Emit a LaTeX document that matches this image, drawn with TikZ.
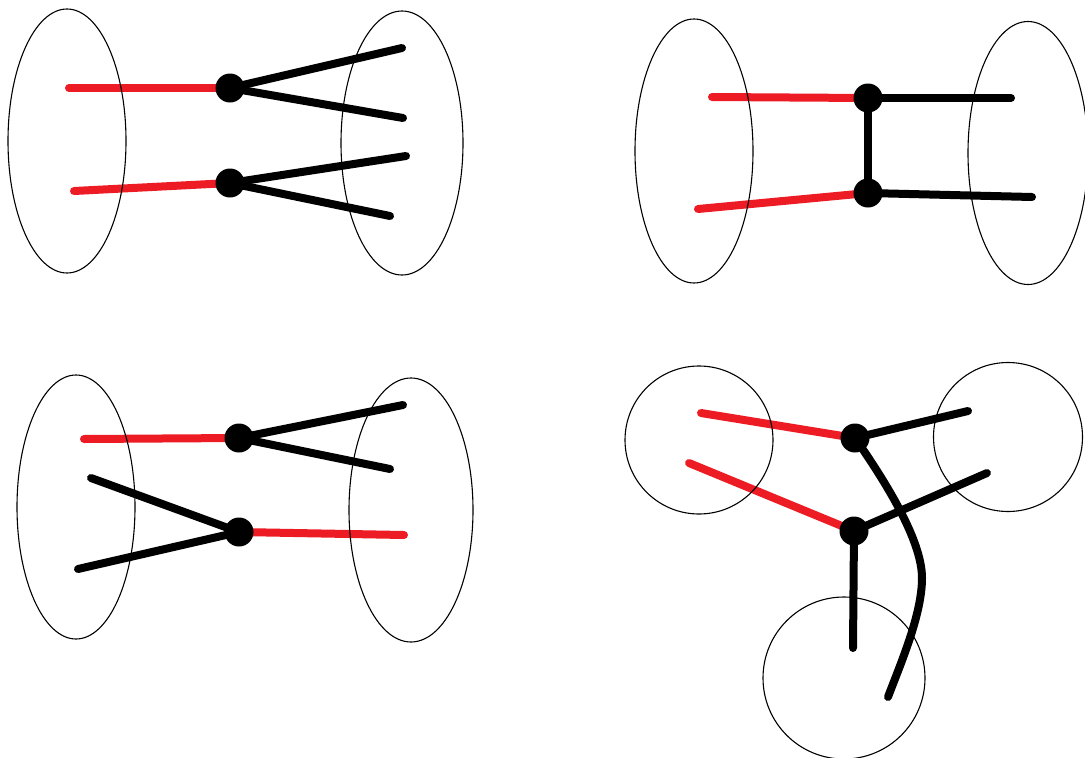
\documentclass[tikz,border=0pt]{standalone}
\usetikzlibrary{shapes.geometric}
\definecolor{paintred}{HTML}{ED1C24}
\pgfdeclarelayer{bg}
\pgfsetlayers{bg,main}
\begin{document}
\begin{tikzpicture}[x=1pt,y=-1pt,
  setshape/.style={draw=black,line width=1.1pt,ellipse,inner sep=0pt},
  redline/.style={draw=paintred,line width=8pt,line cap=round},
  blkline/.style={draw=black,line width=8pt,line cap=round},
  dot/.style={circle,fill=black,minimum size=29pt,inner sep=0pt}]
\useasboundingbox (0,0) rectangle (1085,758);

% ---------- top-left ----------
\node[setshape,minimum width=118pt,minimum height=264pt] (A1) at (67,141) {};
\node[setshape,minimum width=122pt,minimum height=264pt] (A2) at (402,143) {};
\node[dot] (a1) at (230,88) {};
\node[dot] (a2) at (230,183) {};
\coordinate (ar1) at (69,88);
\coordinate (ar2) at (74,191);
\coordinate (ab1) at (402,48);
\coordinate (ab2) at (403,118);
\coordinate (ab3) at (406,156);
\coordinate (ab4) at (390,216);

% ---------- top-right ----------
\node[setshape,minimum width=118pt,minimum height=264pt] (B1) at (694,151) {};
\node[setshape,minimum width=120pt,minimum height=263pt] (B2) at (1028,153) {};
\node[dot] (b1) at (868,98) {};
\node[dot] (b2) at (868,193) {};
\coordinate (br1) at (712,97);
\coordinate (br2) at (698,209);
\coordinate (bb1) at (1011,98);
\coordinate (bb2) at (1032,197);

% ---------- bottom-left ----------
\node[setshape,minimum width=118pt,minimum height=264pt] (C1) at (76,507) {};
\node[setshape,minimum width=124pt,minimum height=264pt] (C2) at (411,510) {};
\node[dot] (c1) at (239,438) {};
\node[dot] (c2) at (239,532) {};
\coordinate (cr1) at (84,439);
\coordinate (cr2) at (404,535);
\coordinate (cb1) at (403,405);
\coordinate (cb2) at (390,469);
\coordinate (cb3) at (91,478);
\coordinate (cb4) at (78,569);

% ---------- bottom-right ----------
\node[setshape,circle,minimum size=148pt] (D1) at (699,440) {};
\node[setshape,circle,minimum size=149pt] (D2) at (1008,437) {};
\node[setshape,circle,minimum size=162pt] (D3) at (844,678) {};
\node[dot] (d1) at (855,438) {};
\node[dot] (d2) at (854,531) {};
\coordinate (dr1) at (701,413);
\coordinate (dr2) at (689,463);
\coordinate (db1) at (968,411);
\coordinate (db2) at (987,473);
\coordinate (db3) at (853,648);
\coordinate (dm) at (922,578);
\coordinate (de) at (888,697);

\begin{pgfonlayer}{bg}
  \fill[white] (0,0) rectangle (1085,758);
  % top-left
  \draw[redline] (ar1) -- (a1.center);
  \draw[redline] (ar2) -- (a2.center);
  \draw[blkline] (a1.center) -- (ab1);
  \draw[blkline] (a1.center) -- (ab2);
  \draw[blkline] (a2.center) -- (ab3);
  \draw[blkline] (a2.center) -- (ab4);
  % top-right
  \draw[redline] (br1) -- (b1.center);
  \draw[redline] (br2) -- (b2.center);
  \draw[blkline] (b1.center) -- (bb1);
  \draw[blkline] (b2.center) -- (bb2);
  \draw[blkline] (b1.center) -- (b2.center);
  % bottom-left
  \draw[redline] (cr1) -- (c1.center);
  \draw[redline] (c2.center) -- (cr2);
  \draw[blkline] (c1.center) -- (cb1);
  \draw[blkline] (c1.center) -- (cb2);
  \draw[blkline] (cb3) -- (c2.center);
  \draw[blkline] (cb4) -- (c2.center);
  % bottom-right
  \draw[redline] (dr1) -- (d1.center);
  \draw[redline] (dr2) -- (d2.center);
  \draw[blkline] (d1.center) -- (db1);
  \draw[blkline] (d2.center) -- (db2);
  \draw[blkline] (d2.center) -- (db3);
  \draw[blkline] (d1.center) .. controls (885,481) and (922,540) .. (dm)
                             .. controls (922,615) and (900,665) .. (de);
\end{pgfonlayer}
\end{tikzpicture}
\end{document}
